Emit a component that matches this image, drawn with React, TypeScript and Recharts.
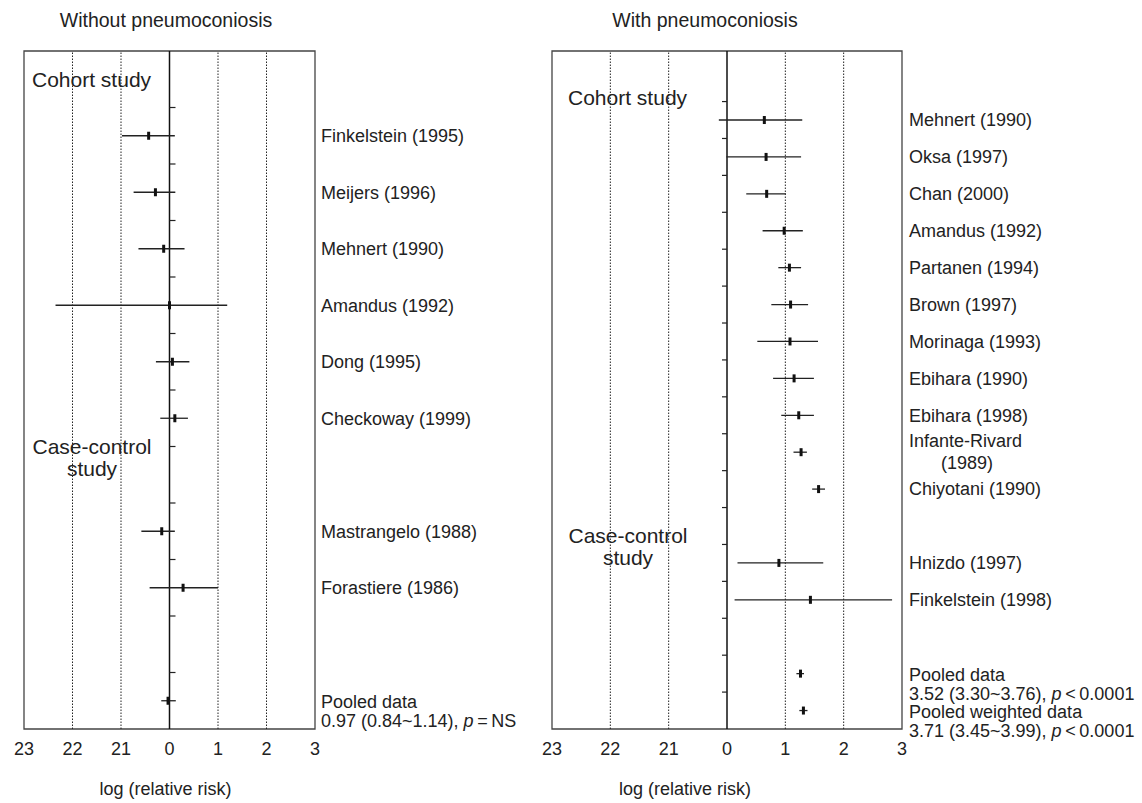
import React from "react";
import {
  ScatterChart,
  Scatter,
  XAxis,
  YAxis,
  ReferenceLine,
  ReferenceArea,
  ReferenceDot,
} from "recharts";

const FONT = '"Liberation Sans", Arial, Helvetica, sans-serif';

// ---------- axis data ----------
const xTickValues = [-3, -2, -1, 0, 1, 2, 3];
const xTickLabels = ["23", "22", "21", "0", "1", "2", "3"];
const gridValues = [-2, -1, 1, 2];
const axisTitle = "log (relative risk)";

// ---------- left panel: without pneumoconiosis ----------
const leftTitle = "Without pneumoconiosis";
const leftStudies = [
  "",
  "Finkelstein (1995)",
  "Meijers (1996)",
  "Mehnert (1990)",
  "Amandus (1992)",
  "Dong (1995)",
  "Checkoway (1999)",
  "",
  "Mastrangelo (1988)",
  "Forastiere (1986)",
  "",
  "Pooled data",
];
const leftNotes = ["", "", "", "", "", "", "", "", "", "", "", "0.97 (0.84~1.14), p=NS"];
const leftEstimate = [null, -0.43, -0.29, -0.12, 0.0, 0.06, 0.11, null, -0.16, 0.28, null, -0.03];
const leftLower = [null, -0.98, -0.74, -0.64, -2.35, -0.28, -0.19, null, -0.58, -0.41, null, -0.17];
const leftUpper = [null, 0.11, 0.12, 0.31, 1.19, 0.41, 0.38, null, 0.11, 1.0, null, 0.13];

// ---------- right panel: with pneumoconiosis ----------
const rightTitle = "With pneumoconiosis";
const rightStudies = [
  "Mehnert (1990)",
  "Oksa (1997)",
  "Chan (2000)",
  "Amandus (1992)",
  "Partanen (1994)",
  "Brown (1997)",
  "Morinaga (1993)",
  "Ebihara (1990)",
  "Ebihara (1998)",
  "Infante-Rivard\n(1989)",
  "Chiyotani (1990)",
  "",
  "Hnizdo (1997)",
  "Finkelstein (1998)",
  "",
  "Pooled data",
  "Pooled weighted data",
];
const rightNotes = [
  "", "", "", "", "", "", "", "", "", "", "", "", "", "", "",
  "3.52 (3.30~3.76), p<0.0001",
  "3.71 (3.45~3.99), p<0.0001",
];
const rightEstimate = [0.64, 0.67, 0.68, 0.98, 1.07, 1.09, 1.08, 1.15, 1.23, 1.27, 1.57, null, 0.89, 1.43, null, 1.26, 1.31];
const rightLower = [-0.14, -0.01, 0.33, 0.61, 0.88, 0.76, 0.52, 0.79, 0.93, 1.14, 1.46, null, 0.18, 0.13, null, 1.19, 1.24];
const rightUpper = [1.29, 1.27, 1.01, 1.3, 1.27, 1.39, 1.56, 1.49, 1.49, 1.37, 1.68, null, 1.65, 2.83, null, 1.32, 1.38];

const groupCohort = "Cohort study";
const groupCaseControl = ["Case-control", "study"];

// ---------- helpers ----------
function renderNote(note: string) {
  const m = note.match(/^(.*,\s)p([=<])(.*)$/);
  if (!m) return note;
  return (
    <>
      {m[1]}
      <tspan fontStyle="italic">p</tspan>
      {"\u2009" + m[2] + "\u2009" + m[3]}
    </>
  );
}

function LabelTick(props: any) {
  const { x, y, payload, studies, notes } = props;
  const idx = Math.round(payload.value - 0.5);
  const name: string = studies[idx] || "";
  const note: string = notes[idx] || "";
  const common = { fill: "#222", fontSize: 18, fontFamily: FONT };
  if (note) {
    return (
      <g>
        <text x={x} y={y + 1} dy="0.35em" {...common}>{name}</text>
        <text x={x} y={y + 20} dy="0.35em" {...common}>{renderNote(note)}</text>
      </g>
    );
  }
  if (name.includes("\n")) {
    const [a, b] = name.split("\n");
    return (
      <g>
        <text x={x} y={y - 11} dy="0.35em" {...common}>{a}</text>
        <text x={x + 32} y={y + 11} dy="0.35em" {...common}>{b}</text>
      </g>
    );
  }
  return (
    <text x={x} y={y} dy="0.35em" {...common}>{name}</text>
  );
}

type PanelProps = {
  width: number;
  marginLeft: number;
  labelWidth: number;
  marginRight: number;
  labelGap: number;
  studies: string[];
  notes: string[];
  est: (number | null)[];
  lo: (number | null)[];
  hi: (number | null)[];
  yDomain: [number, number];
  zeroTicks: number[];
  zeroTickLen: number;
  axisTitleShift: number;
};

function Panel(p: PanelProps) {
  const data = p.est
    .map((v, i) => (v == null ? null : { x: v, y: i + 0.5 }))
    .filter(Boolean) as { x: number; y: number }[];
  const labelTicks = p.studies
    .map((s, i) => (s ? i + 0.5 : null))
    .filter((v) => v != null) as number[];
  return (
    <ScatterChart
      width={p.width}
      height={803}
      margin={{ top: 51, bottom: 4, left: p.marginLeft, right: p.marginRight }}
      style={{ fontFamily: FONT }}
    >
      <XAxis
        type="number"
        dataKey="x"
        domain={[-3, 3]}
        ticks={xTickValues}
        interval={0}
        allowDataOverflow
        tickFormatter={(v: number) => xTickLabels[xTickValues.indexOf(v)]}
        tickLine={false}
        axisLine={false}
        tickSize={0}
        tickMargin={13}
        height={70}
        tick={{ fill: "#222", fontSize: 18, fontFamily: FONT }}
        label={{
          value: axisTitle,
          position: "insideBottom",
          offset: 4,
          dx: p.axisTitleShift,
          fill: "#222",
          fontSize: 18,
          fontFamily: FONT,
        }}
      />
      <YAxis
        type="number"
        dataKey="y"
        orientation="right"
        domain={p.yDomain}
        reversed
        allowDataOverflow
        ticks={labelTicks}
        interval={0}
        width={p.labelWidth}
        tickLine={false}
        axisLine={false}
        tickSize={0}
        tickMargin={p.labelGap}
        tick={(tp: any) => <LabelTick {...tp} studies={p.studies} notes={p.notes} />}
      />
      {gridValues.map((g) => (
        <ReferenceLine
          key={"g" + g}
          x={g}
          stroke="#222"
          strokeWidth={1}
          strokeDasharray="1.5 1.5"
        />
      ))}
      <ReferenceLine x={0} stroke="#111" strokeWidth={1.5} />
      <ReferenceArea
        x1={-3}
        x2={3}
        y1={p.yDomain[0]}
        y2={p.yDomain[1]}
        fill="none"
        fillOpacity={0}
        stroke="#444"
        strokeWidth={1.3}
      />
      {p.zeroTicks.map((t) => (
        <ReferenceDot
          key={"t" + t}
          x={0}
          y={t}
          r={0}
          shape={(sp: any) => (
            <line
              x1={sp.cx}
              x2={sp.cx + p.zeroTickLen}
              y1={sp.cy}
              y2={sp.cy}
              stroke="#222"
              strokeWidth={1.2}
            />
          )}
        />
      ))}
      {p.est.map((v, i) =>
        v == null || p.lo[i] == null || p.hi[i] == null ? null : (
          <ReferenceLine
            key={"ci" + i}
            segment={[
              { x: p.lo[i] as number, y: i + 0.5 },
              { x: p.hi[i] as number, y: i + 0.5 },
            ]}
            stroke="#222"
            strokeWidth={1.3}
          />
        )
      )}
      <Scatter
        data={data}
        isAnimationActive={false}
        shape={(sp: any) => (
          <rect x={sp.cx - 1.5} y={sp.cy - 4} width={3} height={8} fill="#111" />
        )}
      />
    </ScatterChart>
  );
}

const textStyle: React.CSSProperties = {
  position: "absolute",
  color: "#222",
  whiteSpace: "nowrap",
  fontFamily: FONT,
};

export default function App() {
  const leftZeroTicks = [1, 2, 3, 4, 5, 6, 7, 8, 9, 10, 11];
  const rightZeroTicks = [0, 1, 2, 3, 4, 5, 6, 7, 8, 9, 10, 11, 12, 13, 14, 15, 16];
  return (
    <div
      style={{
        position: "absolute",
        left: 0,
        top: 0,
        width: 1142,
        height: 803,
        background: "#fff",
        overflow: "hidden",
        fontFamily: FONT,
      }}
    >
      <div style={{ position: "absolute", left: 0, top: 0 }}>
        <Panel
          width={540}
          marginLeft={24}
          labelWidth={200}
          marginRight={25}
          labelGap={6}
          studies={leftStudies}
          notes={leftNotes}
          est={leftEstimate}
          lo={leftLower}
          hi={leftUpper}
          yDomain={[0, 12]}
          zeroTicks={leftZeroTicks}
          zeroTickLen={6}
          axisTitleShift={-4}
        />
      </div>
      <div style={{ position: "absolute", left: 530, top: 0 }}>
        <Panel
          width={612}
          marginLeft={22}
          labelWidth={235}
          marginRight={5}
          labelGap={7}
          studies={rightStudies}
          notes={rightNotes}
          est={rightEstimate}
          lo={rightLower}
          hi={rightUpper}
          yDomain={[-1.37, 17]}
          zeroTicks={rightZeroTicks}
          zeroTickLen={-5}
          axisTitleShift={-42}
        />
      </div>

      {/* panel titles */}
      <div style={{ ...textStyle, left: 46, width: 240, textAlign: "center", top: 8, fontSize: 19.5, lineHeight: "24px" }}>
        {leftTitle}
      </div>
      <div style={{ ...textStyle, left: 585, width: 240, textAlign: "center", top: 8, fontSize: 19.5, lineHeight: "24px" }}>
        {rightTitle}
      </div>

      {/* group labels, left */}
      <div style={{ ...textStyle, left: 32, top: 69, fontSize: 21, lineHeight: "22px" }}>{groupCohort}</div>
      <div style={{ ...textStyle, left: 32, width: 120, textAlign: "center", top: 436, fontSize: 21, lineHeight: "22px" }}>
        {groupCaseControl[0]}
        <br />
        {groupCaseControl[1]}
      </div>

      {/* group labels, right */}
      <div style={{ ...textStyle, left: 568, top: 87, fontSize: 21, lineHeight: "22px" }}>{groupCohort}</div>
      <div style={{ ...textStyle, left: 568, width: 120, textAlign: "center", top: 525, fontSize: 21, lineHeight: "22px" }}>
        {groupCaseControl[0]}
        <br />
        {groupCaseControl[1]}
      </div>
    </div>
  );
}
